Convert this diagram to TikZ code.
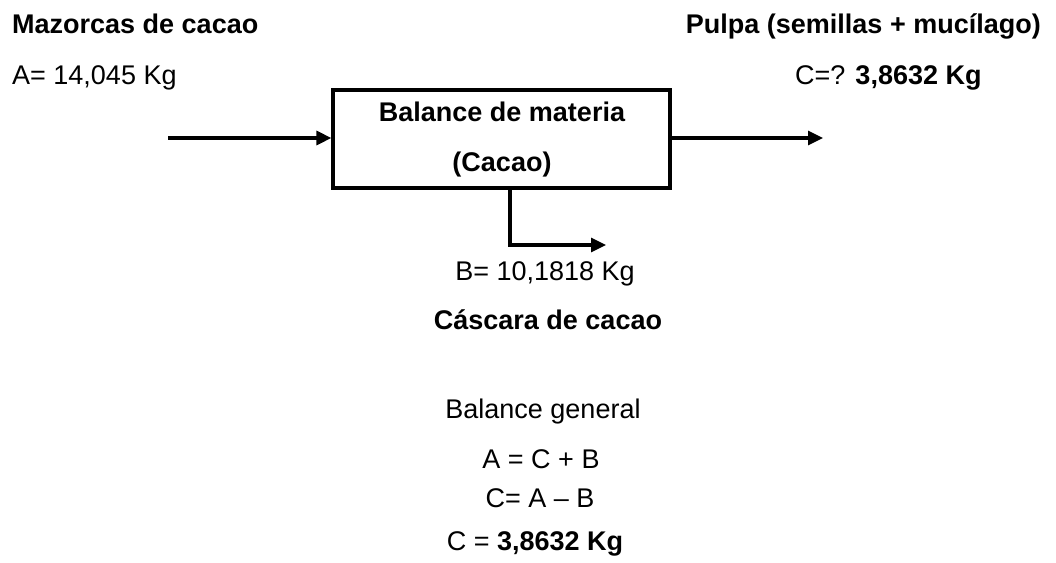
\documentclass[tikz,border=0pt]{standalone}
\usepackage{fontspec}
\setmainfont{Liberation Sans}
\usetikzlibrary{arrows.meta}
\tikzset{
  txt/.style={inner sep=0pt, font=\fontsize{27}{32}\selectfont, anchor=base},
  btxt/.style={txt, font=\fontsize{27}{32}\selectfont\bfseries},
  arr/.style={line width=3.2pt, -{Triangle[length=15pt,width=14pt]}},
  proc/.style={draw, line width=3.2pt, minimum width=337pt, minimum height=98pt, inner sep=0pt}
}
\begin{document}
\begin{tikzpicture}[x=1pt,y=-1pt]
\useasboundingbox (0,0) rectangle (1056,562);
% process box
\node[proc] (box) at (501.5,139) {};
\node[btxt] (t1) at (502,121) {Balance de materia};
\node[btxt] (t2) at (502,171) {(Cacao)};
% inputs / outputs
\coordinate (ain) at (168,138);
\coordinate (cout) at (823,138);
\coordinate (bt) at (510,245);
\coordinate (bend) at (606,245);
\draw[arr] (ain) -- (box.west |- ain);
\draw[arr] (box.east |- cout) -- (cout);
\draw[arr] (box.south -| bt) -- (bt) -- (bend);
% labels
\node[btxt, anchor=base west] (mz) at (12,33) {Mazorcas de cacao};
\node[txt, anchor=base west] (aval) at (12,84) {A= 14,045 Kg};
\node[btxt, anchor=base east] (pu) at (1041,33) {Pulpa (semillas + mucílago)};
\node[txt, anchor=base west] (cval) at (795,84) {C=? \textbf{3,8632 Kg}};
\node[txt] (bval) at (545,280) {B= 10,1818 Kg};
\node[btxt] (cas) at (548,329) {Cáscara de cacao};
% general balance
\node[txt] (g1) at (543,418) {Balance general};
\node[txt] (g2) at (541,468) {A = C + B};
\node[txt] (g3) at (540,507) {C= A -- B};
\node[txt] (g4) at (535,550) {C = \textbf{3,8632 Kg}};
\end{tikzpicture}
\end{document}
